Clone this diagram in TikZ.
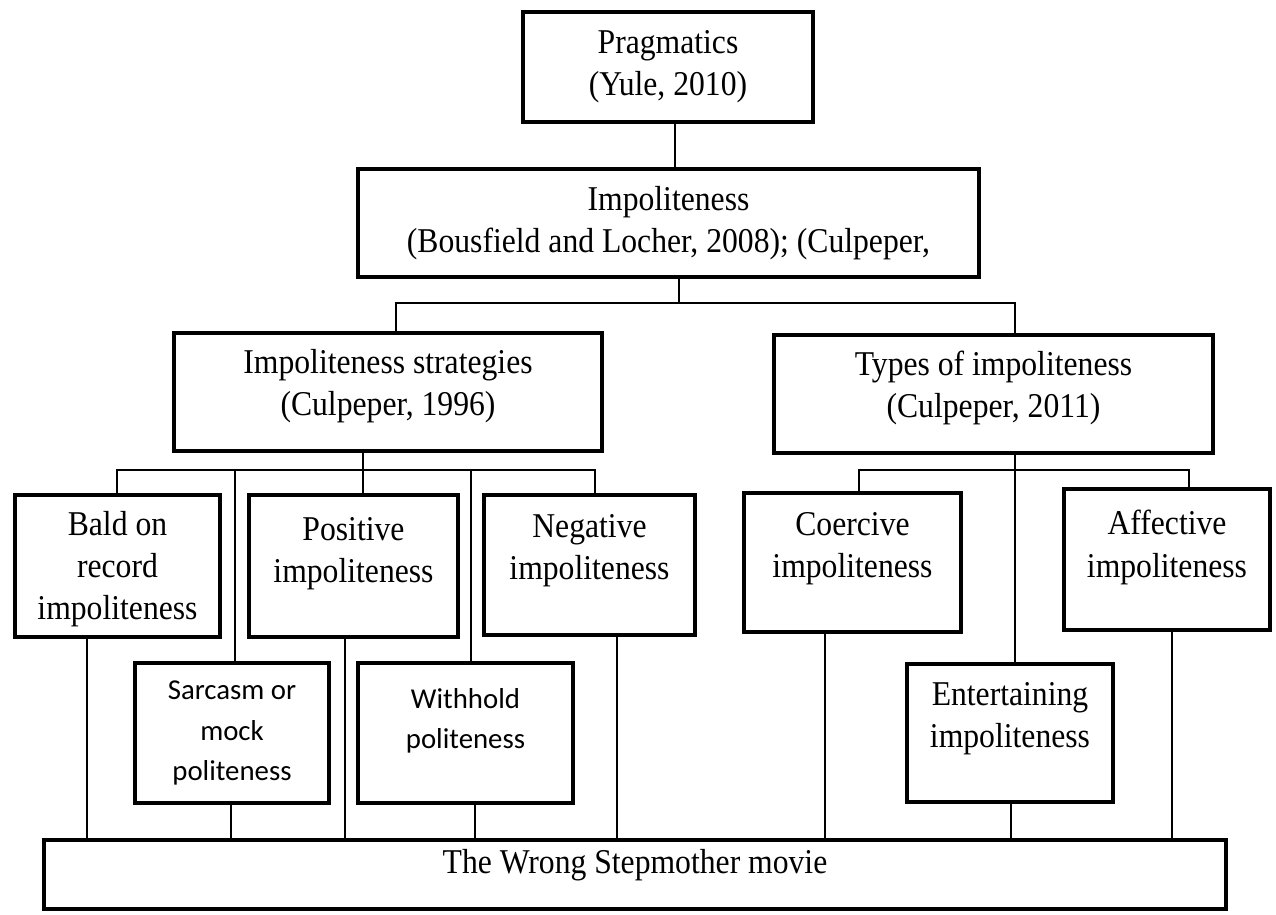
\documentclass[tikz,border=0pt]{standalone}
\usepackage{fontspec}
\setmainfont{Liberation Serif}[FakeStretch=0.91]
\newfontfamily\calibfont{Carlito}
\usepackage{tikz}

\tikzset{
  frame/.style={draw, line width=2.3pt, inner sep=0pt},
  words/.style={align=center, font=\fontsize{19.8}{24}\selectfont},
  sanswords/.style={align=center, font=\calibfont\fontsize{16.4}{23}\selectfont},
  link/.style={line width=0.75pt},
}

\begin{document}
\begin{tikzpicture}[x=0.02cm, y=-0.02cm]
  \useasboundingbox (0,0) rectangle (1276,914);

  % top levels
  \node[frame, minimum width=5.8cm, minimum height=2.2cm,
    label={[words]center:Pragmatics\\(Yule, 2010)}] (prag) at (668,67) {};
  \node[frame, minimum width=12.42cm, minimum height=2.16cm,
    label={[words]center:Impoliteness\\(Bousfield and Locher, 2008); (Culpeper,}] (imp) at (668.5,223) {};
  \node[frame, minimum width=8.56cm, minimum height=2.36cm,
    label={[words, yshift=0.12cm]center:Impoliteness strategies\\(Culpeper, 1996)}] (strat) at (388,392) {};
  \node[frame, minimum width=8.78cm, minimum height=2.36cm,
    label={[words, yshift=0.12cm]center:Types of impoliteness\\(Culpeper, 2011)}] (types) at (993.5,394) {};

  % strategies
  \node[frame, minimum width=4.1cm, minimum height=2.84cm,
    label={[words, yshift=-0.06cm]center:Bald on\\record\\impoliteness}] (bald) at (117.5,566) {};
  \node[frame, minimum width=4.18cm, minimum height=2.84cm,
    label={[words, yshift=0.24cm]center:Positive\\impoliteness}] (pos) at (353.5,566) {};
  \node[frame, minimum width=4.22cm, minimum height=2.8cm,
    label={[words, yshift=0.28cm]center:Negative\\impoliteness}] (neg) at (589.5,565) {};
  \node[frame, minimum width=3.88cm, minimum height=2.8cm,
    label={[sanswords]center:Sarcasm or\\mock\\politeness}] (sarc) at (232,733) {};
  \node[frame, minimum width=4.3cm, minimum height=2.8cm,
    label={[sanswords, yshift=0.24cm]center:Withhold\\politeness}] (with) at (465.5,733) {};

  % types
  \node[frame, minimum width=4.34cm, minimum height=2.78cm,
    label={[words, yshift=0.28cm]center:Coercive\\impoliteness}] (coer) at (852.5,562.5) {};
  \node[frame, minimum width=4.12cm, minimum height=2.82cm,
    label={[words, yshift=0.24cm]center:Affective\\impoliteness}] (aff) at (1167,559.5) {};
  \node[frame, minimum width=4.12cm, minimum height=2.76cm,
    label={[words, yshift=0.28cm]center:Entertaining\\impoliteness}] (ent) at (1010,733) {};

  % data
  \node[frame, minimum width=23.64cm, minimum height=1.38cm,
    label={[words, yshift=0.18cm]center:The Wrong Stepmother movie}] (movie) at (635,874.5) {};

  % connectors
  \draw[link] (675,0 |- prag.south) -- (675,0 |- imp.north);
  \coordinate (j1) at (679,303);
  \draw[link] (j1 |- imp.south) -- (j1);
  \draw[link] (396,0 |- strat.north) |- (j1) -| (1015,0 |- types.north);

  \coordinate (sb) at (363,470);
  \draw[link] (strat.south -| sb) -- (sb |- pos.north);
  \draw[link] (117,0 |- bald.north) |- (595,0 |- sb) -- (595,0 |- neg.north);
  \draw[link] (235,0 |- sb) -- (235,0 |- sarc.north);
  \draw[link] (471,0 |- sb) -- (471,0 |- with.north);

  \coordinate (tb) at (1015,470);
  \draw[link] (types.south -| tb) -- (tb |- ent.north);
  \draw[link] (859,0 |- coer.north) |- (1189,0 |- tb) -- (1189,0 |- aff.north);

  \foreach \x/\n in {87/bald, 231/sarc, 345/pos, 475/with, 617/neg, 825/coer, 1011/ent, 1172/aff}
    \draw[link] (\x,0 |- \n.south) -- (\x,0 |- movie.north);
\end{tikzpicture}
\end{document}
